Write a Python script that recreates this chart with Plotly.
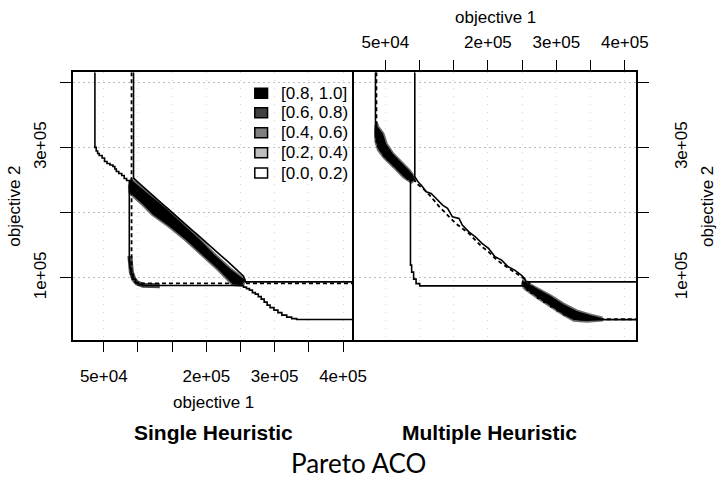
import plotly.graph_objects as go

# ---------------- data (objective values) ----------------
x_ticks = [50000, 100000, 150000, 200000, 250000, 300000, 350000, 400000]
x_tick_text = ["5e+04", "", "", "2e+05", "", "3e+05", "", "4e+05"]
y_ticks = [100000, 200000, 300000, 400000]
y_tick_text = ["1e+05", "", "3e+05", ""]

x_range = [4500, 416300]
y_range = [5200, 416000]
x_open = 416300     # surfaces run off to the right edge
y_open = 416000     # surfaces run off to the top edge

legend_levels = ["[0.8, 1.0]", "[0.6, 0.8)", "[0.4, 0.6)", "[0.2, 0.4)", "[0.0, 0.2)"]
legend_colors = ["#000000", "#404040", "#808080", "#bebebe", "#ffffff"]

# ----- Single Heuristic -----
sh_best_x = [37070, 37070, 38940, 41090, 43250, 47560, 51150, 54740, 59050, 63360, 66240,
             68390, 71990, 76300, 79890, 83480, 87360, 87360, 88220, 89950, 92820, 96410,
             100720, 106470, 250170, 254480, 258790, 263100, 267410, 271720, 276030,
             280340, 284650, 288960, 293270, 299020, 304770, 310520, 317700, 324890,
             332070, x_open]
sh_best_y = [y_open, 300620, 294930, 291080, 288000, 284150, 278770, 275690, 273380, 271080,
             267230, 263390, 260310, 257230, 252620, 249540, 244930, 124620, 114920, 105690,
             98000, 92620, 89540, 88310, 88310, 85690, 83380, 81080, 77230, 74920, 71070,
             67230, 62620, 58000, 54150, 50310, 46460, 42620, 39540, 37230, 36000, 36000]

sh_worst_x = [93540, 93540, 100730, 109350, 117970, 126590, 135210, 143830, 152460, 161080,
              169700, 178320, 186940, 195560, 204180, 212800, 221420, 230040, 238660,
              247280, 254470, 257350, x_open]
sh_worst_y = [y_open, 253380, 246460, 238000, 230310, 221850, 214160, 206470, 198000, 190310,
              181850, 174160, 166460, 158000, 150310, 142620, 134160, 126460, 118000,
              110310, 102620, 93850, 93850]

sh_median_x = [90670, 90670, 92100, 95700, 100730, x_open]
sh_median_y = [y_open, 107230, 98000, 93380, 91380, 91380]

sh_band_x = [89230, 92100, 116100, 140060, 164010, 187950, 211810, 235810, 255920, 257350,
             253060, 238250, 216690, 192690, 168690, 144840, 120840, 106470, 87360, 86360]
sh_band_y = [252620, 251080, 229850, 209230, 186160, 163080, 137540, 114460, 98770, 94920,
             87230, 88770, 111850, 134920, 158000, 178460, 196460, 211850, 229850, 242620]

sh_corner_x = [88210, 88640, 90370, 93960, 98990, 107610, 120540, 132030]
sh_corner_y = [133380, 121080, 108770, 98000, 91850, 88770, 88000, 88000]

# ----- Multiple Heuristic -----
mh_best_x = [35630, 35630, 36780, 38940, 43250, 47560, 53310, 61930, 69110, 76300, 82050,
             86790, 86790, 88510, 91380, 94980, 100300, 253480, 257360, 263100, 272730,
             281780, 291840, 301470, 310960, 320590, 334960, x_open]
mh_best_y = [y_open, 316460, 308770, 301540, 294930, 287230, 281080, 272620, 265700, 258000,
             251850, 247230, 119540, 108770, 98000, 91080, 87700, 87700, 81080, 76460,
             68770, 62620, 55690, 49540, 43380, 39540, 35700, 35700]

mh_worst_x = [93110, 93110, 97850, 103000, 109780, 116960, 121850, 127000, 133770, 140960,
              148140, 157780, 162520, 172150, 181630, 191260, 200890, 210370, 219990,
              229620, 239110, 248730, 253480, 256000, x_open]
mh_worst_y = [y_open, 255390, 247700, 242000, 232310, 229850, 224620, 219000, 211850, 206770,
              193850, 191390, 181080, 170770, 163080, 152920, 145230, 132310, 127230,
              116920, 111850, 104150, 99080, 93850, 93850]

mh_median_x = [37070, 37070, 40370, 44680, 50430, 57610, 67670, 77730, 87790, 95410, 105040,
               114670, 129040, 143410, 152890, 162520, 172150, 181630, 191260, 200890,
               210370, 219990, 234360, 248730, 255910, 270290, 286100, 301900, 317720,
               334960, 352200, 366570, x_open]
mh_median_y = [y_open, 332310, 325690, 314920, 302620, 291850, 281080, 270310, 259540, 245230,
               237540, 227230, 209230, 193850, 183690, 176000, 168310, 158000, 147690,
               140000, 129850, 122150, 111850, 101540, 96460, 81080, 68770, 58000, 48770,
               41080, 37230, 36300, 36300]

mh_band1_x = [37500, 40370, 47560, 52300, 61930, 76300, 85920, 93110, 93540,
              88220, 76300, 61930, 47560, 38940, 35340, 34620, 35340]
mh_band1_y = [339840, 332310, 322160, 306770, 291390, 276000, 265700, 255390, 250300,
              245690, 254150, 269540, 284150, 296460, 308770, 324150, 334930]

mh_band2_x = [250170, 253480, 272730, 291840, 310960, 330210, 349350, 366590,
              366590, 344590, 325330, 310960, 291840, 272730, 253480, 248730]
mh_band2_y = [97230, 95380, 83690, 73380, 60610, 50310, 44150, 39540,
              34150, 32310, 33850, 41850, 54920, 68000, 82620, 90310]

# ---------------- figure ----------------
W, H = 717, 479
FONT = "Liberation Sans, Arial, sans-serif"

def px(xp):
    return xp / W

def py(yp):
    return 1 - yp / H

fig = go.Figure()

def band(xs, ys, xa, ya):
    fig.add_trace(go.Scatter(x=xs, y=ys, xaxis=xa, yaxis=ya, mode="lines", fill="toself",
                             fillcolor="#000000", line=dict(color="#6e6e6e", width=1.6),
                             hoverinfo="skip", showlegend=False))

def surf(xs, ys, xa, ya, dash=None, shape="hv", width=1.6):
    fig.add_trace(go.Scatter(x=xs, y=ys, xaxis=xa, yaxis=ya, mode="lines",
                             line=dict(color="black", width=width, dash=dash, shape=shape),
                             hoverinfo="skip", showlegend=False))

# Single heuristic panel
band(sh_band_x, sh_band_y, "x", "y")
fig.add_trace(go.Scatter(x=sh_corner_x, y=sh_corner_y, xaxis="x", yaxis="y", mode="lines",
                         line=dict(color="#2a2a2a", width=5), opacity=0.85,
                         hoverinfo="skip", showlegend=False))
surf(sh_best_x, sh_best_y, "x", "y")
surf(sh_worst_x, sh_worst_y, "x", "y", shape="linear")
surf(sh_median_x, sh_median_y, "x", "y", dash="4px,3px", shape="linear", width=1.8)

# Multiple heuristic panel
band(mh_band1_x, mh_band1_y, "x2", "y2")
band(mh_band2_x, mh_band2_y, "x2", "y2")
surf(mh_best_x, mh_best_y, "x2", "y2")
surf(mh_worst_x, mh_worst_y, "x2", "y2", shape="linear")
surf(mh_median_x, mh_median_y, "x2", "y2", dash="4px,3px", shape="linear", width=1.8)

# ---------------- axes ----------------
L0, L1, R1 = 74, 360.7, 647.7
T0, B0 = 72.3, 339.5
tickfont = dict(family=FONT, size=17, color="black")

common_x = dict(range=x_range, tickmode="array", tickvals=x_ticks, ticktext=x_tick_text,
                showline=True, linecolor="black", linewidth=1.5, mirror=True,
                ticks="outside", ticklen=11, tickwidth=1.4, tickcolor="black",
                showgrid=True, gridcolor="#d4d4d4", griddash="1px,7px", gridwidth=1,
                zeroline=False, tickfont=tickfont, fixedrange=True)
common_y = dict(range=y_range, tickmode="array", tickvals=y_ticks, ticktext=y_tick_text,
                showline=True, linecolor="black", linewidth=1.5, mirror=True,
                ticks="outside", ticklen=11, tickwidth=1.4, tickcolor="black",
                showgrid=True, gridcolor="#bdbdbd", griddash="2px,3px", gridwidth=1,
                zeroline=False, tickfont=tickfont, tickangle=-90, fixedrange=True)

fig.update_layout(
    width=W, height=H, margin=dict(l=0, r=0, t=0, b=0),
    paper_bgcolor="white", plot_bgcolor="white",
    xaxis=dict(common_x, domain=[px(L0), px(L1)], anchor="y", side="bottom",
               ticklabelstandoff=9),
    yaxis=dict(common_y, domain=[py(B0), py(T0)], anchor="x", side="left",
               mirror=False, ticklabelstandoff=7),
    xaxis2=dict(common_x, domain=[px(L1), px(R1)], anchor="y2", side="top",
                ticklabelstandoff=5),
    yaxis2=dict(common_y, domain=[py(B0), py(T0)], anchor="x2", side="right",
                ticklabelstandoff=18),
    showlegend=False,
)

# ---------------- legend (drawn inside the left panel) ----------------
row_y = [93.3, 112.7, 132.7, 152.7, 173.0]
for lab, col, yy in zip(legend_levels, legend_colors, row_y):
    fig.add_shape(type="rect", xref="paper", yref="paper",
                  x0=px(259.5), x1=px(272.5), y0=py(yy + 5), y1=py(yy - 5),
                  fillcolor=col, line=dict(color="black", width=1.5))
    fig.add_annotation(text=lab, xref="paper", yref="paper", x=px(284), y=py(yy),
                       xanchor="left", yanchor="middle", showarrow=False,
                       font=dict(family=FONT, size=17, color="black"))

# ---------------- titles ----------------
def label(text, x, y, size=17, angle=0, bold=False, family=FONT, xanchor="center"):
    fig.add_annotation(text=f"<b>{text}</b>" if bold else text, xref="paper", yref="paper",
                       x=px(x), y=py(y), xanchor=xanchor, yanchor="middle",
                       showarrow=False, textangle=angle, borderpad=0,
                       font=dict(family=family, size=size, color="black"))

label("objective 1", 217.4, 402)
label("objective 1", 504.2, 17)
label("objective 2", 14, 206, angle=-90)
label("objective 2", 720, 206, angle=-90)
label("Single Heuristic", 217.5, 432, size=21, bold=True)
label("Multiple Heuristic", 499, 432, size=21, bold=True)
label("Pareto ACO", 365, 463, size=26, family="Lato, Liberation Sans, sans-serif")

fig.write_html("out.html")
